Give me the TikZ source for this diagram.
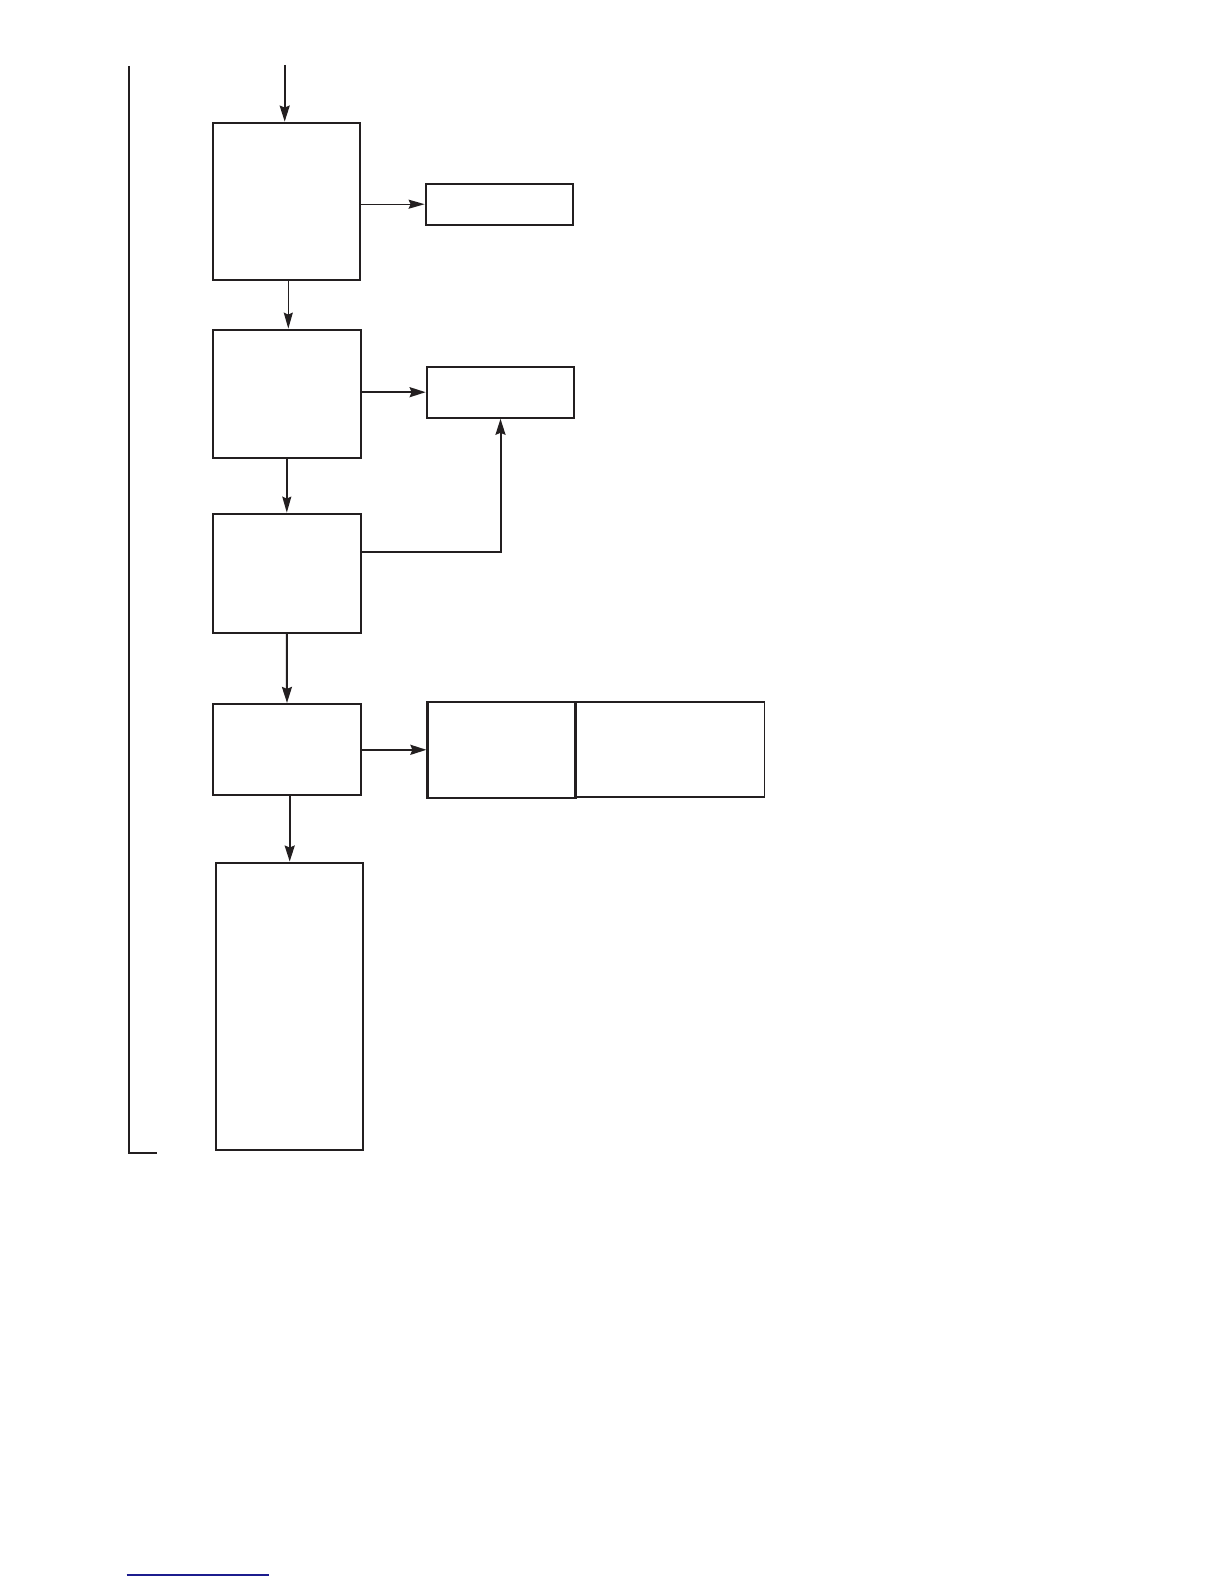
\documentclass[tikz,border=0pt]{standalone}
\usetikzlibrary{arrows.meta,calc}
\definecolor{ink}{HTML}{231F20}
\definecolor{rule}{HTML}{1C1C8E}
\begin{document}
\begin{tikzpicture}[x=1pt,y=-1pt,
  box/.style={draw=ink,line width=2.2pt,inner sep=0pt,rectangle},
  thinbox/.style={draw=ink,line width=1.4pt,inner sep=0pt,rectangle},
  arr/.style={draw=ink,line width=2pt,-{Stealth[length=16pt,width=10pt,inset=2pt]}},
  tarr/.style={draw=ink,line width=1.4pt,-{Stealth[length=16pt,width=9pt,inset=2pt]}},
  ln/.style={draw=ink,line width=2.2pt}]
\useasboundingbox (0,0) rectangle (1224,1584);
\fill[white] (0,0) rectangle (1224,1584);
% boxes
\node[box,minimum width=147.3pt,minimum height=157.6pt] (b1) at (286.3,201.5) {};
\node[box,minimum width=148.3pt,minimum height=128.6pt] (b2) at (286.8,394) {};
\node[box,minimum width=148.3pt,minimum height=119pt] (b3) at (286.8,573.2) {};
\node[box,minimum width=148pt,minimum height=91pt] (b4) at (287,749.5) {};
\node[box,minimum width=147.3pt,minimum height=287.3pt] (b5) at (289.7,1006.3) {};
\node[box,minimum width=147.6pt,minimum height=41pt] (r1) at (499.5,204.2) {};
\node[box,minimum width=147.6pt,minimum height=51pt] (r2) at (500.5,392.2) {};
\node[thinbox,minimum width=189pt,minimum height=95pt] (r4b) at (670,749.5) {};
\node[box,minimum width=148pt,minimum height=95.7pt] (r4a) at (501.5,749.8) {};
% free ends
\coordinate (top) at (284.7,65);
\coordinate (d12) at (288.3,0);
\coordinate (lt) at (129,66);
\coordinate (lb) at (129,1152.7);
\coordinate (le) at (156.7,1152.7);
\coordinate (ua) at (126.7,1575);
\coordinate (ub) at (269,1575);
% connectors
\draw[arr] (top) -- (top |- b1.north);
\draw[tarr] (d12 |- b1.south) -- (d12 |- b2.north);
\draw[tarr] (b1.east |- r1) -- (r1.west);
\draw[arr] (b2.east |- r2) -- (r2.west);
\draw[tarr] (b2.south) -- (b3.north);
\draw[arr] ($(b3.east)+(0,-21.5)$) -| (r2.south);
\draw[arr] (b3.south) -- (b4.north);
\draw[arr] (b4.east |- r4a) -- (r4a.west);
\draw[arr] (b5.north |- b4.south) -- (b5.north);
\draw[ln] (lt) -- (lb) -- (le);
\draw[rule,line width=1.4pt] (ua) -- (ub);
\end{tikzpicture}
\end{document}
